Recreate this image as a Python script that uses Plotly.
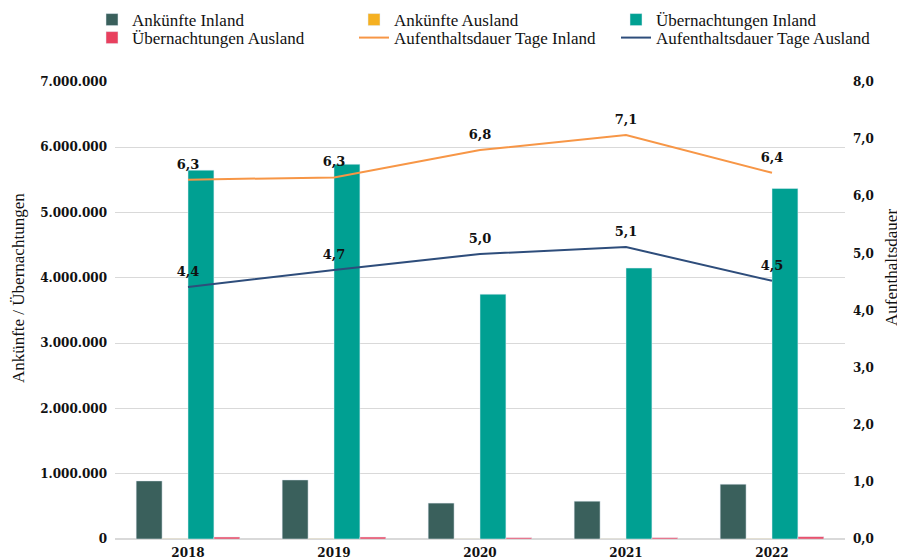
import plotly.graph_objects as go

years = ["2018", "2019", "2020", "2021", "2022"]
ankuenfte_inland = [890000, 905000, 550000, 580000, 840000]
ankuenfte_ausland = [4000, 4000, 2500, 2500, 4000]
uebernachtungen_inland = [5650000, 5740000, 3750000, 4150000, 5370000]
uebernachtungen_ausland = [30000, 30000, 20000, 20000, 35000]
dauer_inland = [6.29, 6.33, 6.81, 7.07, 6.41]
dauer_ausland = [4.41, 4.71, 4.99, 5.11, 4.52]

SERIF = "Liberation Serif"
NUM = "DejaVu Serif"
LABEL_FONT = dict(family=NUM, size=13, color="#111", weight="bold")
HIDDEN_MARKER = dict(size=11, color="rgba(0,0,0,0)", line=dict(width=0))

fig = go.Figure()
fig.add_bar(x=years, y=ankuenfte_inland, name="Ankünfte Inland", marker_color="#3a605c", legend="legend")
fig.add_bar(x=years, y=ankuenfte_ausland, name="Ankünfte Ausland", marker_color="#f5b021", legend="legend")
fig.add_bar(x=years, y=uebernachtungen_inland, name="Übernachtungen Inland", marker_color="#00a092", legend="legend")
fig.add_bar(x=years, y=uebernachtungen_ausland, name="Übernachtungen Ausland", marker_color="#e8405e", legend="legend2")
fig.add_scatter(x=years, y=dauer_inland, name="Aufenthaltsdauer Tage Inland", yaxis="y2", legend="legend2",
                mode="lines+markers+text", line=dict(color="#f79646", width=2),
                marker=HIDDEN_MARKER,
                text=[f"{v:.1f}".replace(".", ",") for v in dauer_inland],
                textposition="top center", textfont=LABEL_FONT)
fig.add_scatter(x=years, y=dauer_ausland, name="Aufenthaltsdauer Tage Ausland", yaxis="y2", legend="legend2",
                mode="lines+markers+text", line=dict(color="#2e4d7b", width=2),
                marker=HIDDEN_MARKER,
                text=[f"{v:.1f}".replace(".", ",") for v in dauer_ausland],
                textposition="top center", textfont=LABEL_FONT)

legend_common = dict(orientation="h", xanchor="left", yanchor="top",
                     entrywidth=217, entrywidthmode="pixels",
                     font=dict(family=SERIF, size=17, color="#111"),
                     itemwidth=30, bgcolor="rgba(0,0,0,0)", borderwidth=0)

fig.update_layout(
    width=897, height=552,
    margin=dict(l=107, r=60, t=74, b=21, autoexpand=False),
    paper_bgcolor="white", plot_bgcolor="white",
    barmode="group", bargap=0.29, bargroupgap=0,
    separators=",.",
    font=dict(family=SERIF, color="#111"),
    showlegend=True,
    legend=dict(x=-0.0315, y=1.175, **legend_common),
    legend2=dict(x=-0.0315, y=1.1356, **legend_common),
    xaxis=dict(showgrid=False, showline=True, linecolor="#d9d9d9", linewidth=1,
               tickfont=dict(family=NUM, size=12, color="#111", weight="bold"),
               ticks="", ticklabelstandoff=3, automargin=False),
    yaxis=dict(range=[0, 7000000], dtick=1000000, tickformat=",d",
               showgrid=True, gridcolor="#d9d9d9", gridwidth=1,
               zeroline=True, zerolinecolor="#d9d9d9",
               tickfont=dict(family=NUM, size=12, color="#111", weight="bold"),
               ticks="", ticklabelstandoff=7, automargin=False),
    yaxis2=dict(range=[0, 8], dtick=1, tickformat=".1f", overlaying="y", side="right",
                showgrid=False, zeroline=False,
                tickfont=dict(family=NUM, size=12, color="#111", weight="bold"),
                ticks="", ticklabelstandoff=7, automargin=False),
    annotations=[
        dict(text="Ankünfte / Übernachtungen", xref="paper", yref="paper",
             x=-0.1329, y=0.549, xanchor="center", yanchor="middle",
             textangle=-90, showarrow=False,
             font=dict(family=SERIF, size=17, color="#111")),
        dict(text="Aufenthaltsdauer", xref="paper", yref="paper",
             x=1.0644, y=0.593, xanchor="center", yanchor="middle",
             textangle=-90, showarrow=False,
             font=dict(family=SERIF, size=17, color="#111")),
    ],
)

fig.write_html("out.html")
